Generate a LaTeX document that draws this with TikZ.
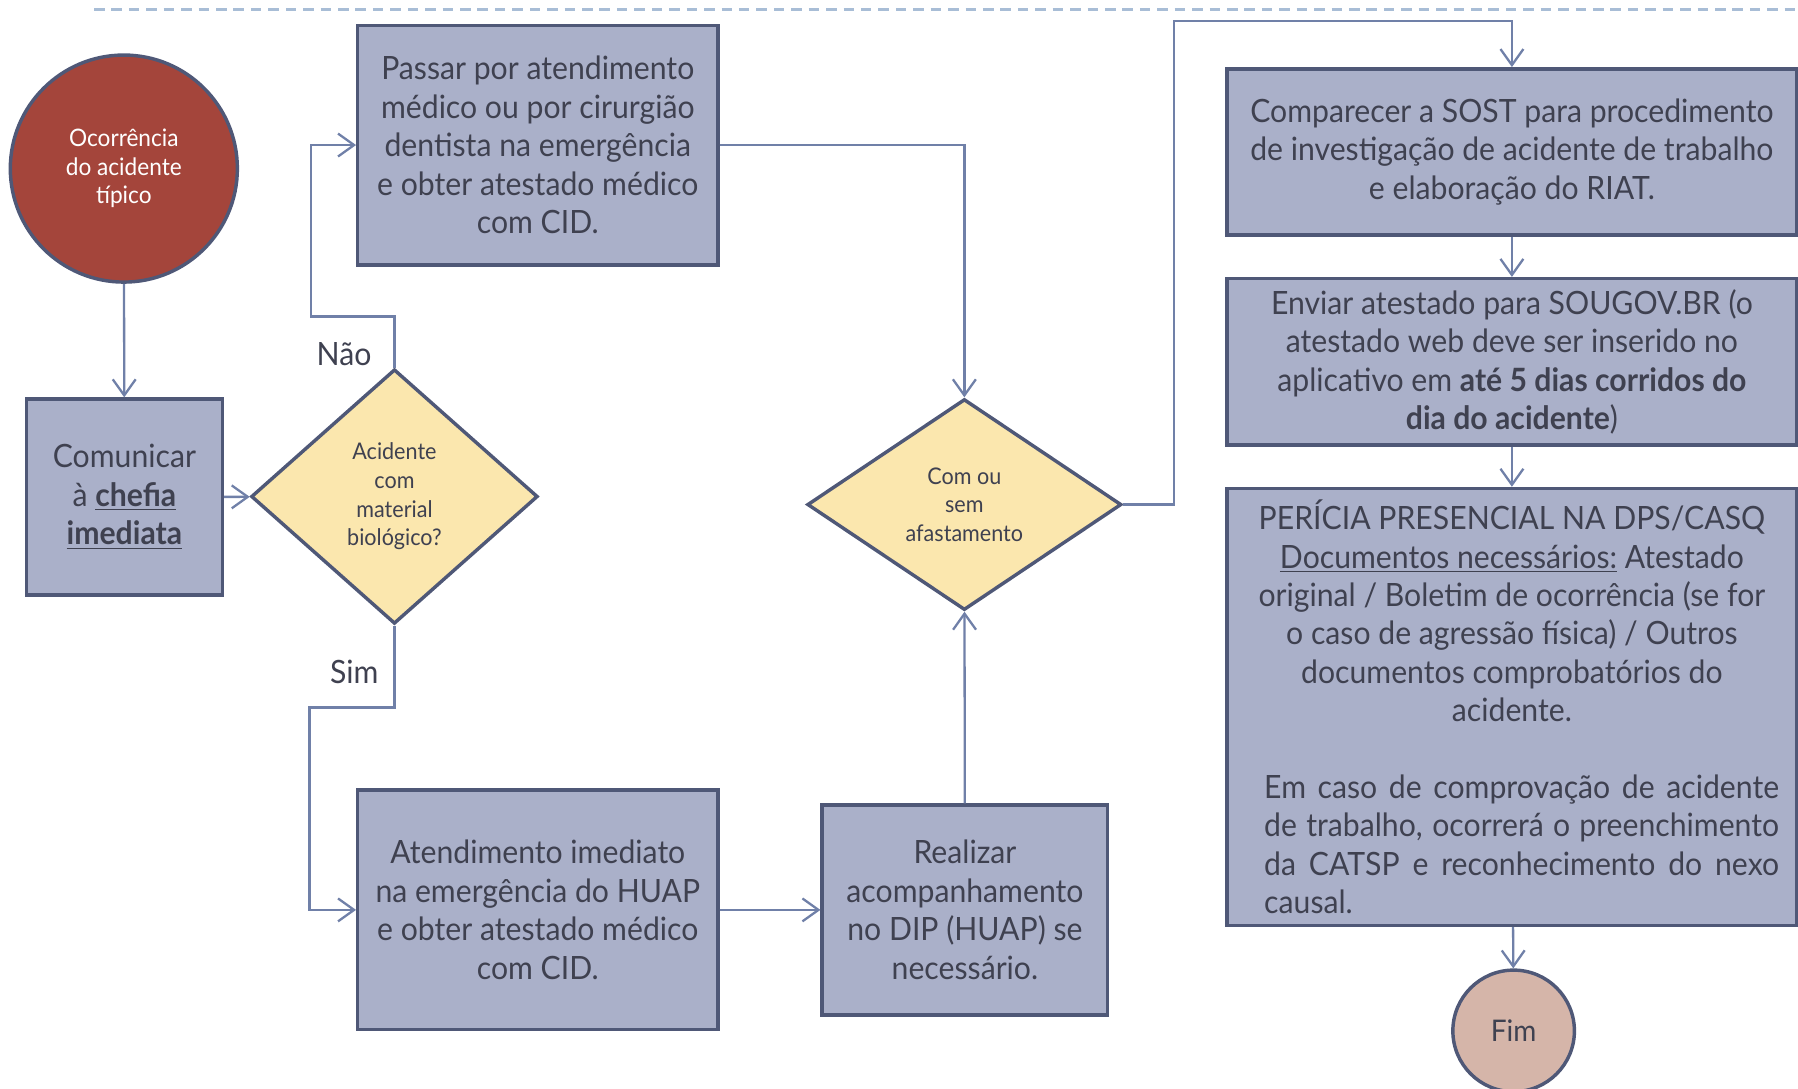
\documentclass[tikz,border=0pt]{standalone}
\usepackage{fontspec}
\setmainfont{Lato}[FakeStretch=0.94]
\usetikzlibrary{shapes.geometric,arrows.meta}
\definecolor{boxfill}{HTML}{AAB0C9}
\definecolor{boxline}{HTML}{4F5877}
\definecolor{connc}{HTML}{7080A8}
\definecolor{txtc}{HTML}{3F4150}
\definecolor{decfill}{HTML}{FBE7AE}
\definecolor{startfill}{HTML}{A4453B}
\definecolor{endfill}{HTML}{D5B5A9}
\definecolor{dashc}{HTML}{A8BDD6}
\newcommand\mainsz{\fontsize{14}{16.75}\selectfont}
\newcommand\smallsz{\fontsize{10.5}{12.5}\selectfont}
\newcommand\decsz{\fontsize{10}{12.5}\selectfont}
\begin{document}
\begin{tikzpicture}[x=0.5pt,y=-0.5pt,
  procbox/.style={draw=boxline,fill=boxfill,line width=1.5pt,text=txtc,align=center,inner sep=0pt,font=\mainsz},
  decision/.style={diamond,aspect=1,draw=boxline,fill=decfill,line width=1.5pt,text=txtc,align=center,inner sep=0pt,font=\decsz},
  terminal/.style={circle,draw=boxline,line width=1.5pt,align=center,inner sep=0pt},
  conn/.style={draw=connc,line width=1pt,-{Straight Barb[length=7pt,width=10pt,line width=1pt]}},
  lbl/.style={text=txtc,font=\mainsz,inner sep=0pt}]
\useasboundingbox (0,0) rectangle (1568,949);
\coordinate (dl) at (82,8);
\coordinate (dr) at (1568,8);
\draw[dashc,line width=1.4pt,dash pattern=on 4.6pt off 3pt] (dl) -- (dr);

\node[terminal,fill=startfill,text=white,minimum size=99pt,font=\smallsz] (occ) at (108,147) {Ocorrência\\do acidente\\típico};
\node[procbox,minimum width=85.5pt,minimum height=85.5pt] (com) at (108.5,433.5) {Comunicar\\à \underline{\textbf{chefia}}\\\underline{\textbf{imediata}}};
\node[decision,minimum width=125pt,minimum height=111pt] (d1) at (344,433) {Acidente\\com\\material\\biológico?};
\node[procbox,minimum width=157pt,minimum height=104.5pt] (pas) at (469,126.5) {Passar por atendimento\\médico ou por cirurgião\\dentista na emergência\\e obter atestado médico\\com CID.};
\node[procbox,minimum width=157pt,minimum height=104.5pt] (ate) at (469,793.5) {Atendimento imediato\\na emergência do HUAP\\e obter atestado médico\\com CID.};
\node[procbox,minimum width=124.5pt,minimum height=91.5pt] (rea) at (841.5,793.5) {Realizar\\acompanhamento\\no DIP (HUAP) se\\necessário.};
\node[decision,minimum width=137pt,minimum height=92pt] (d2) at (841,440) {Com ou\\sem\\afastamento};
\node[procbox,minimum width=248.5pt,minimum height=72.5pt] (sost) at (1318.5,132.5) {Comparecer a SOST para procedimento\\de investigação de acidente de trabalho\\e elaboração do RIAT.};
\node[procbox,minimum width=248.5pt,minimum height=72.5pt] (env) at (1318.5,315.5) {Enviar atestado para SOUGOV.BR (o\\atestado web deve ser inserido no\\aplicativo em \textbf{até 5 dias corridos do}\\\textbf{dia do acidente})};
\node[procbox,minimum width=248.5pt,minimum height=190.5pt,text width=228pt,align=none] (per) at (1318.5,616.5) {\parindent=0pt\hyphenpenalty=10000\exhyphenpenalty=10000{\centering PERÍCIA PRESENCIAL NA DPS/CASQ\\\underline{Documentos necessários:} Atestado\\original / Boletim de ocorrência (se for\\o caso de agressão física) / Outros\\documentos comprobatórios do\\acidente.\par}\vspace{\baselineskip}\leftskip=6pt\rightskip=-2.5pt Em caso de comprovação de acidente\linebreak de trabalho, ocorrerá o preenchimento\linebreak da CATSP e reconhecimento do nexo\linebreak causal.\par};
\node[terminal,fill=endfill,text=txtc,minimum size=53pt,font=\fontsize{13}{15}\selectfont] (fim) at (1320,899) {Fim};

\node[lbl] (nao) at (300,309) {Não};
\node[lbl] (sim) at (309,586) {Sim};

\coordinate (n1) at (271,276);
\coordinate (s1) at (270,617);
\coordinate (c1) at (1024,18);

\draw[conn] (occ) -- (com);
\draw[conn] (com) -- (d1);
\draw[conn] (d1.north) |- (n1) |- (pas.west);
\draw[conn] (d1.south) |- (s1) |- (ate.west);
\draw[conn] (ate) -- (rea);
\draw[conn] (rea) -- (d2);
\draw[conn] (pas.east) -| (d2.north);
\draw[conn] (d2.east) -| (c1) -| (sost.north);
\draw[conn] (sost) -- (env);
\draw[conn] (env) -- (per);
\draw[conn] (per) -- (fim);
\end{tikzpicture}
\end{document}
